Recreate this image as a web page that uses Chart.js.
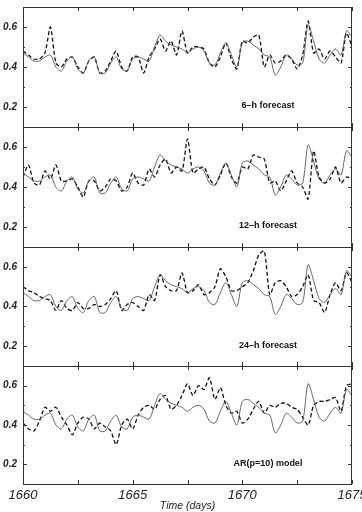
<!DOCTYPE html>
<html lang="en">
<head>
<meta charset="UTF-8">
<title>Forecast comparison</title>
<script src="https://cdn.jsdelivr.net/npm/chart.js"></script>
<style>
  body { margin: 0; background: #fff; }
  #wrap { position: relative; width: 362px; height: 512px; overflow: hidden; }
  #wrap canvas { position: absolute; left: 0; }
</style>
</head>
<body>
<div id="wrap">
  <canvas id="p1" width="362" height="129" style="top:0px"></canvas>
  <canvas id="p2" width="362" height="124" style="top:125px"></canvas>
  <canvas id="p3" width="362" height="123" style="top:245px"></canvas>
  <canvas id="p4" width="362" height="148" style="top:364px"></canvas>
</div>
<script>
// time axis (days), every 6 h
const days = [
  1660, 1660.25, 1660.5, 1660.75, 1661, 1661.25, 1661.5, 1661.75,
  1662, 1662.25, 1662.5, 1662.75, 1663, 1663.25, 1663.5, 1663.75,
  1664, 1664.25, 1664.5, 1664.75, 1665, 1665.25, 1665.5, 1665.75,
  1666, 1666.25, 1666.5, 1666.75, 1667, 1667.25, 1667.5, 1667.75,
  1668, 1668.25, 1668.5, 1668.75, 1669, 1669.25, 1669.5, 1669.75,
  1670, 1670.25, 1670.5, 1670.75, 1671, 1671.25, 1671.5, 1671.75,
  1672, 1672.25, 1672.5, 1672.75, 1673, 1673.25, 1673.5, 1673.75,
  1674, 1674.25, 1674.5, 1674.75, 1675
];

// observed series (solid line, same in every panel)
const observed = [
  0.47, 0.45, 0.43, 0.43, 0.45, 0.46, 0.40, 0.38,
  0.43, 0.45, 0.39, 0.37, 0.43, 0.45, 0.37, 0.37,
  0.42, 0.45, 0.39, 0.38, 0.44, 0.45, 0.44, 0.43,
  0.50, 0.56, 0.53, 0.51, 0.50, 0.49, 0.47, 0.49,
  0.50, 0.48, 0.42, 0.41, 0.47, 0.52, 0.46, 0.40,
  0.52, 0.53, 0.51, 0.49, 0.46, 0.45, 0.36, 0.40,
  0.46, 0.44, 0.41, 0.42, 0.61, 0.53, 0.44, 0.42,
  0.46, 0.49, 0.46, 0.58, 0.55
];

// forecasts (dashed lines)
const fc6h = [
  0.48, 0.46, 0.44, 0.44, 0.47, 0.60, 0.42, 0.40,
  0.44, 0.45, 0.40, 0.37, 0.43, 0.45, 0.37, 0.38,
  0.43, 0.48, 0.40, 0.38, 0.45, 0.45, 0.37, 0.45,
  0.49, 0.54, 0.48, 0.53, 0.46, 0.58, 0.47, 0.50,
  0.50, 0.49, 0.42, 0.40, 0.45, 0.52, 0.44, 0.39,
  0.53, 0.52, 0.55, 0.56, 0.40, 0.46, 0.42, 0.43,
  0.46, 0.44, 0.39, 0.46, 0.63, 0.47, 0.49, 0.44,
  0.48, 0.45, 0.42, 0.57, 0.50
];
const fc12h = [
  0.45, 0.51, 0.42, 0.41, 0.48, 0.44, 0.51, 0.43,
  0.43, 0.44, 0.40, 0.35, 0.43, 0.43, 0.38, 0.40,
  0.44, 0.43, 0.38, 0.40, 0.47, 0.42, 0.41, 0.49,
  0.45, 0.51, 0.54, 0.47, 0.50, 0.48, 0.64, 0.47,
  0.49, 0.50, 0.44, 0.41, 0.46, 0.52, 0.45, 0.42,
  0.50, 0.49, 0.56, 0.55, 0.54, 0.42, 0.43, 0.38,
  0.43, 0.48, 0.42, 0.40, 0.34, 0.58, 0.45, 0.42,
  0.44, 0.50, 0.42, 0.45, 0.44
];
const fc24h = [
  0.50, 0.48, 0.47, 0.45, 0.44, 0.43, 0.38, 0.43,
  0.39, 0.38, 0.42, 0.39, 0.39, 0.41, 0.40, 0.41,
  0.44, 0.48, 0.38, 0.41, 0.42, 0.40, 0.38, 0.46,
  0.43, 0.56, 0.50, 0.48, 0.48, 0.57, 0.47, 0.48,
  0.51, 0.46, 0.47, 0.50, 0.59, 0.55, 0.48, 0.48,
  0.50, 0.52, 0.58, 0.66, 0.68, 0.46, 0.52, 0.53,
  0.50, 0.45, 0.46, 0.50, 0.56, 0.43, 0.42, 0.37,
  0.46, 0.52, 0.48, 0.57, 0.52
];
const arModel = [
  0.41, 0.38, 0.37, 0.42, 0.49, 0.47, 0.49, 0.44,
  0.40, 0.35, 0.41, 0.44, 0.43, 0.38, 0.41, 0.39,
  0.37, 0.30, 0.40, 0.43, 0.38, 0.45, 0.49, 0.50,
  0.48, 0.53, 0.55, 0.48, 0.50, 0.55, 0.61, 0.55,
  0.60, 0.58, 0.64, 0.53, 0.59, 0.50, 0.46, 0.47,
  0.41, 0.43, 0.48, 0.52, 0.46, 0.50, 0.49, 0.51,
  0.51, 0.49, 0.48, 0.44, 0.40, 0.50, 0.52, 0.52,
  0.53, 0.54, 0.47, 0.60, 0.61
];

const panelLabels = ["6\u2013h forecast", "12\u2013h forecast", "24\u2013h forecast", "AR(p=10) model"];
const yTickValues = [0.2, 0.4, 0.6];
const xTickValues = [1660, 1665, 1670, 1675];

// frame, inward tick marks and the panel caption
const framePlugin = {
  id: 'frame',
  afterDraw(chart, args, opts) {
    const { ctx, chartArea: a, scales } = chart;
    ctx.save();
    ctx.strokeStyle = '#333';
    ctx.lineWidth = 1;
    ctx.strokeRect(a.left + 0.5, a.top + 0.5, a.right - a.left - 1, a.bottom - a.top);
    ctx.beginPath();
    for (let v = 1660; v <= 1675; v += 2.5) {
      const x = Math.round(scales.x.getPixelForValue(v)) + 0.5;
      ctx.moveTo(x, a.top); ctx.lineTo(x, a.top + 4);
      ctx.moveTo(x, a.bottom); ctx.lineTo(x, a.bottom - 4);
    }
    for (let i = 1; i <= 7; i++) {
      const y = Math.round(scales.y.getPixelForValue(i / 10)) + 0.5;
      const len = i % 2 === 0 ? 4 : 2;
      ctx.moveTo(a.left, y); ctx.lineTo(a.left + len, y);
      ctx.moveTo(a.right, y); ctx.lineTo(a.right - len, y);
    }
    ctx.stroke();
    ctx.fillStyle = '#111';
    ctx.font = 'bold 9px "Liberation Sans", Arial, sans-serif';
    ctx.textAlign = 'center';
    ctx.textBaseline = 'middle';
    ctx.fillText(opts.label, 268, scales.y.getPixelForValue(0.205));
    ctx.restore();
  }
};

function makePanel(id, forecast, label, isBottom, padTop) {
  const toPoints = arr => arr.map((v, i) => ({ x: days[i], y: v }));
  return new Chart(document.getElementById(id), {
    type: 'line',
    data: {
      datasets: [
        { data: toPoints(observed), borderColor: '#555', borderWidth: 0.9, pointRadius: 0, tension: 0.3 },
        { data: toPoints(forecast), borderColor: '#111', borderWidth: 1.3, borderDash: [4, 2.5], pointRadius: 0, tension: 0.25 }
      ]
    },
    options: {
      responsive: false,
      animation: false,
      events: [],
      layout: { padding: { top: padTop, bottom: isBottom ? 0 : 2, left: 0, right: 10 } },
      plugins: {
        legend: { display: false },
        tooltip: { enabled: false },
        frame: { label: label }
      },
      scales: {
        x: {
          type: 'linear', min: 1660, max: 1675,
          display: isBottom,
          grid: { display: false, drawTicks: false },
          border: { display: false },
          afterBuildTicks: s => { s.ticks = xTickValues.map(v => ({ value: v })); },
          ticks: {
            padding: 4, maxRotation: 0, autoSkip: false, color: '#222',
            font: { family: 'Liberation Sans', size: 13, style: 'italic' },
            callback: v => String(v)
          },
          title: {
            display: true, text: 'Time (days)', color: '#222',
            font: { family: 'Liberation Sans', size: 10.5, style: 'italic' },
            padding: { top: 0, bottom: 0 }
          },
          afterFit: s => {
            if (isBottom) s.height = 28;
            s.paddingLeft = 0; s.paddingRight = 0;
          }
        },
        y: {
          min: 0.1, max: 0.7,
          grid: { display: false, drawTicks: false },
          border: { display: false },
          afterBuildTicks: s => { s.ticks = yTickValues.map(v => ({ value: v })); },
          ticks: {
            padding: 6, color: '#222',
            font: { family: 'Liberation Sans', size: 10, style: 'italic', weight: 'bold' },
            callback: v => v.toFixed(1)
          },
          afterFit: s => { s.width = 23; s.paddingTop = 0; s.paddingBottom = 0; }
        }
      }
    },
    plugins: [framePlugin]
  });
}

makePanel('p1', fc6h, panelLabels[0], false, 7);
makePanel('p2', fc12h, panelLabels[1], false, 2);
makePanel('p3', fc24h, panelLabels[2], false, 2);
makePanel('p4', arModel, panelLabels[3], true, 2);
</script>
</body>
</html>
